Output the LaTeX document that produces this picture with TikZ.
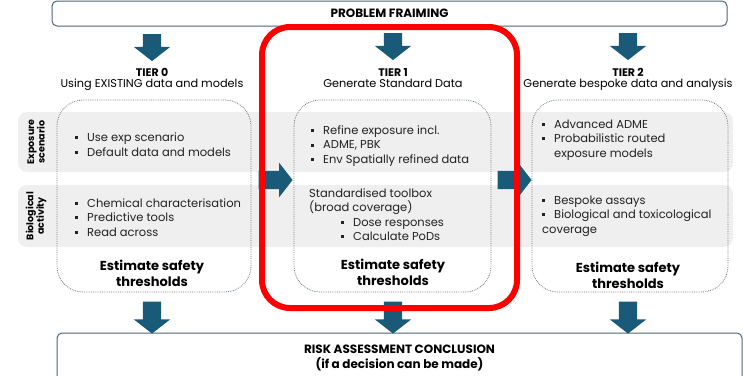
\documentclass[tikz,border=0pt]{standalone}
\usepackage{fontspec}
\setmainfont{Poppins}
\usetikzlibrary{shapes.arrows, positioning}

\definecolor{arrowblue}{HTML}{1A5A79}
\definecolor{bandgray}{HTML}{EFEFEF}
\definecolor{frameline}{HTML}{4D6573}
\definecolor{dotline}{HTML}{6E7E88}
\definecolor{textgray}{HTML}{222222}

\newcommand{\sqb}{\rule[2.4pt]{3pt}{3pt}\hspace{9pt}}

\tikzset{
  downarrow/.style={single arrow, fill=arrowblue, shape border rotate=270,
    inner sep=9pt, single arrow head extend=9pt, single arrow tip angle=104,
    minimum height=27pt},
  rightarrow/.style={single arrow, fill=arrowblue, inner sep=9pt,
    single arrow head extend=8pt, single arrow tip angle=104, minimum height=34pt},
  titlebox/.style={draw=frameline, line width=1pt, fill=white, rounded corners=5pt,
    font=\bfseries\fontsize{12}{15}\selectfont},
  tierbox/.style={draw=dotline, densely dotted, line width=0.8pt, rounded corners=26pt},
  band/.style={fill=bandgray, rounded corners=9pt},
  bandlabel/.style={rotate=90, align=center, font=\bfseries\fontsize{9.5}{10.5}\selectfont},
  tiername/.style={font=\bfseries\fontsize{11}{12}\selectfont},
  tiersub/.style={font=\fontsize{11.3}{12}\selectfont},
  itemtext/.style={anchor=west, align=left, inner sep=0pt, text=textgray,
    font=\fontsize{11.5}{14.5}\selectfont},
  estimate/.style={align=center, font=\bfseries\fontsize{13}{16}\selectfont},
}

\begin{document}
\begin{tikzpicture}[x=1pt, y=-1pt]
\useasboundingbox (0,0) rectangle (743,375);

% grey rows behind the tiers
\fill[band] (18,112) rectangle (733,172);
\fill[band] (18,185) rectangle (733,247);
\node[bandlabel] (explabel) at (36,142) {Exposure\\scenario};
\node[bandlabel] (biolabel) at (36,216) {Biological\\activity};

% dotted tier boxes
\draw[tierbox] (57,100) rectangle (251,292);
\draw[tierbox] (294,100) rectangle (491,292);
\draw[tierbox] (532,100) rectangle (728,292);

% top and bottom boxes
\node[titlebox, minimum width=675pt, minimum height=25pt] (frame) at (389.5,13.5) {PROBLEM FRAIMING};
\node[titlebox, minimum width=685pt, minimum height=50pt, align=center] (risk) at (399.5,358)
  {RISK ASSESSMENT CONCLUSION\\(if a decision can be made)};

% tier headings
\node[tiername] (tier0) at (152,72) {TIER 0};
\node[tiersub, below=-4pt of tier0] (sub0) {Using EXISTING data and models};
\node[tiername] (tier1) at (393,72) {TIER 1};
\node[tiersub, below=-4pt of tier1] (sub1) {Generate Standard Data};
\node[tiername] (tier2) at (628,72) {TIER 2};
\node[tiersub, below=-4pt of tier2] (sub2) {Generate bespoke data and analysis};

% down arrows
\node[downarrow] (in0) at (152,44) {};
\node[downarrow] (in1) at (393,43) {};
\node[downarrow] (in2) at (628,43) {};
\node[downarrow, minimum height=32pt] (out0) at (152,314) {};
\node[downarrow, minimum height=32pt] (out1) at (393,314) {};
\node[downarrow, minimum height=32pt] (out2) at (628,314) {};

% arrows between tiers
\node[rightarrow] (step01) at (272,180) {};
\node[rightarrow] (step12) at (511,180) {};

% tier 0
\node[itemtext] (t0exp) at (75,144.5) {\sqb Use exp scenario\\ \sqb Default data and models};
\node[itemtext] (t0bio) at (75,217.5) {\sqb Chemical characterisation\\ \sqb Predictive tools\\ \sqb Read across};
\node[estimate] (est0) at (152,273) {Estimate safety\\thresholds};

% tier 1
\node[itemtext] (t1exp) at (311,146) {\sqb Refine exposure incl.\\ \sqb ADME, PBK\\ \sqb Env Spatially refined data};
\node[itemtext] (t1bio) at (309,214.5) {Standardised toolbox\\(broad coverage)\\
  \hspace{32pt}\sqb Dose responses\\ \hspace{32pt}\sqb Calculate PoDs};
\node[estimate] (est1) at (393,272) {Estimate safety\\thresholds};

% tier 2
\node[itemtext] (t2exp) at (542,140) {\sqb Advanced ADME\\ \sqb Probabilistic routed\\ \hspace{12pt}exposure models};
\node[itemtext] (t2bio) at (542,216) {\sqb Bespoke assays\\ \sqb Biological and toxicological\\coverage};
\node[estimate] (est2) at (628,275) {Estimate safety\\thresholds};

% highlight
\draw[red, line width=6pt, rounded corners=28pt] (262,27) rectangle (517,308);
\end{tikzpicture}
\end{document}
